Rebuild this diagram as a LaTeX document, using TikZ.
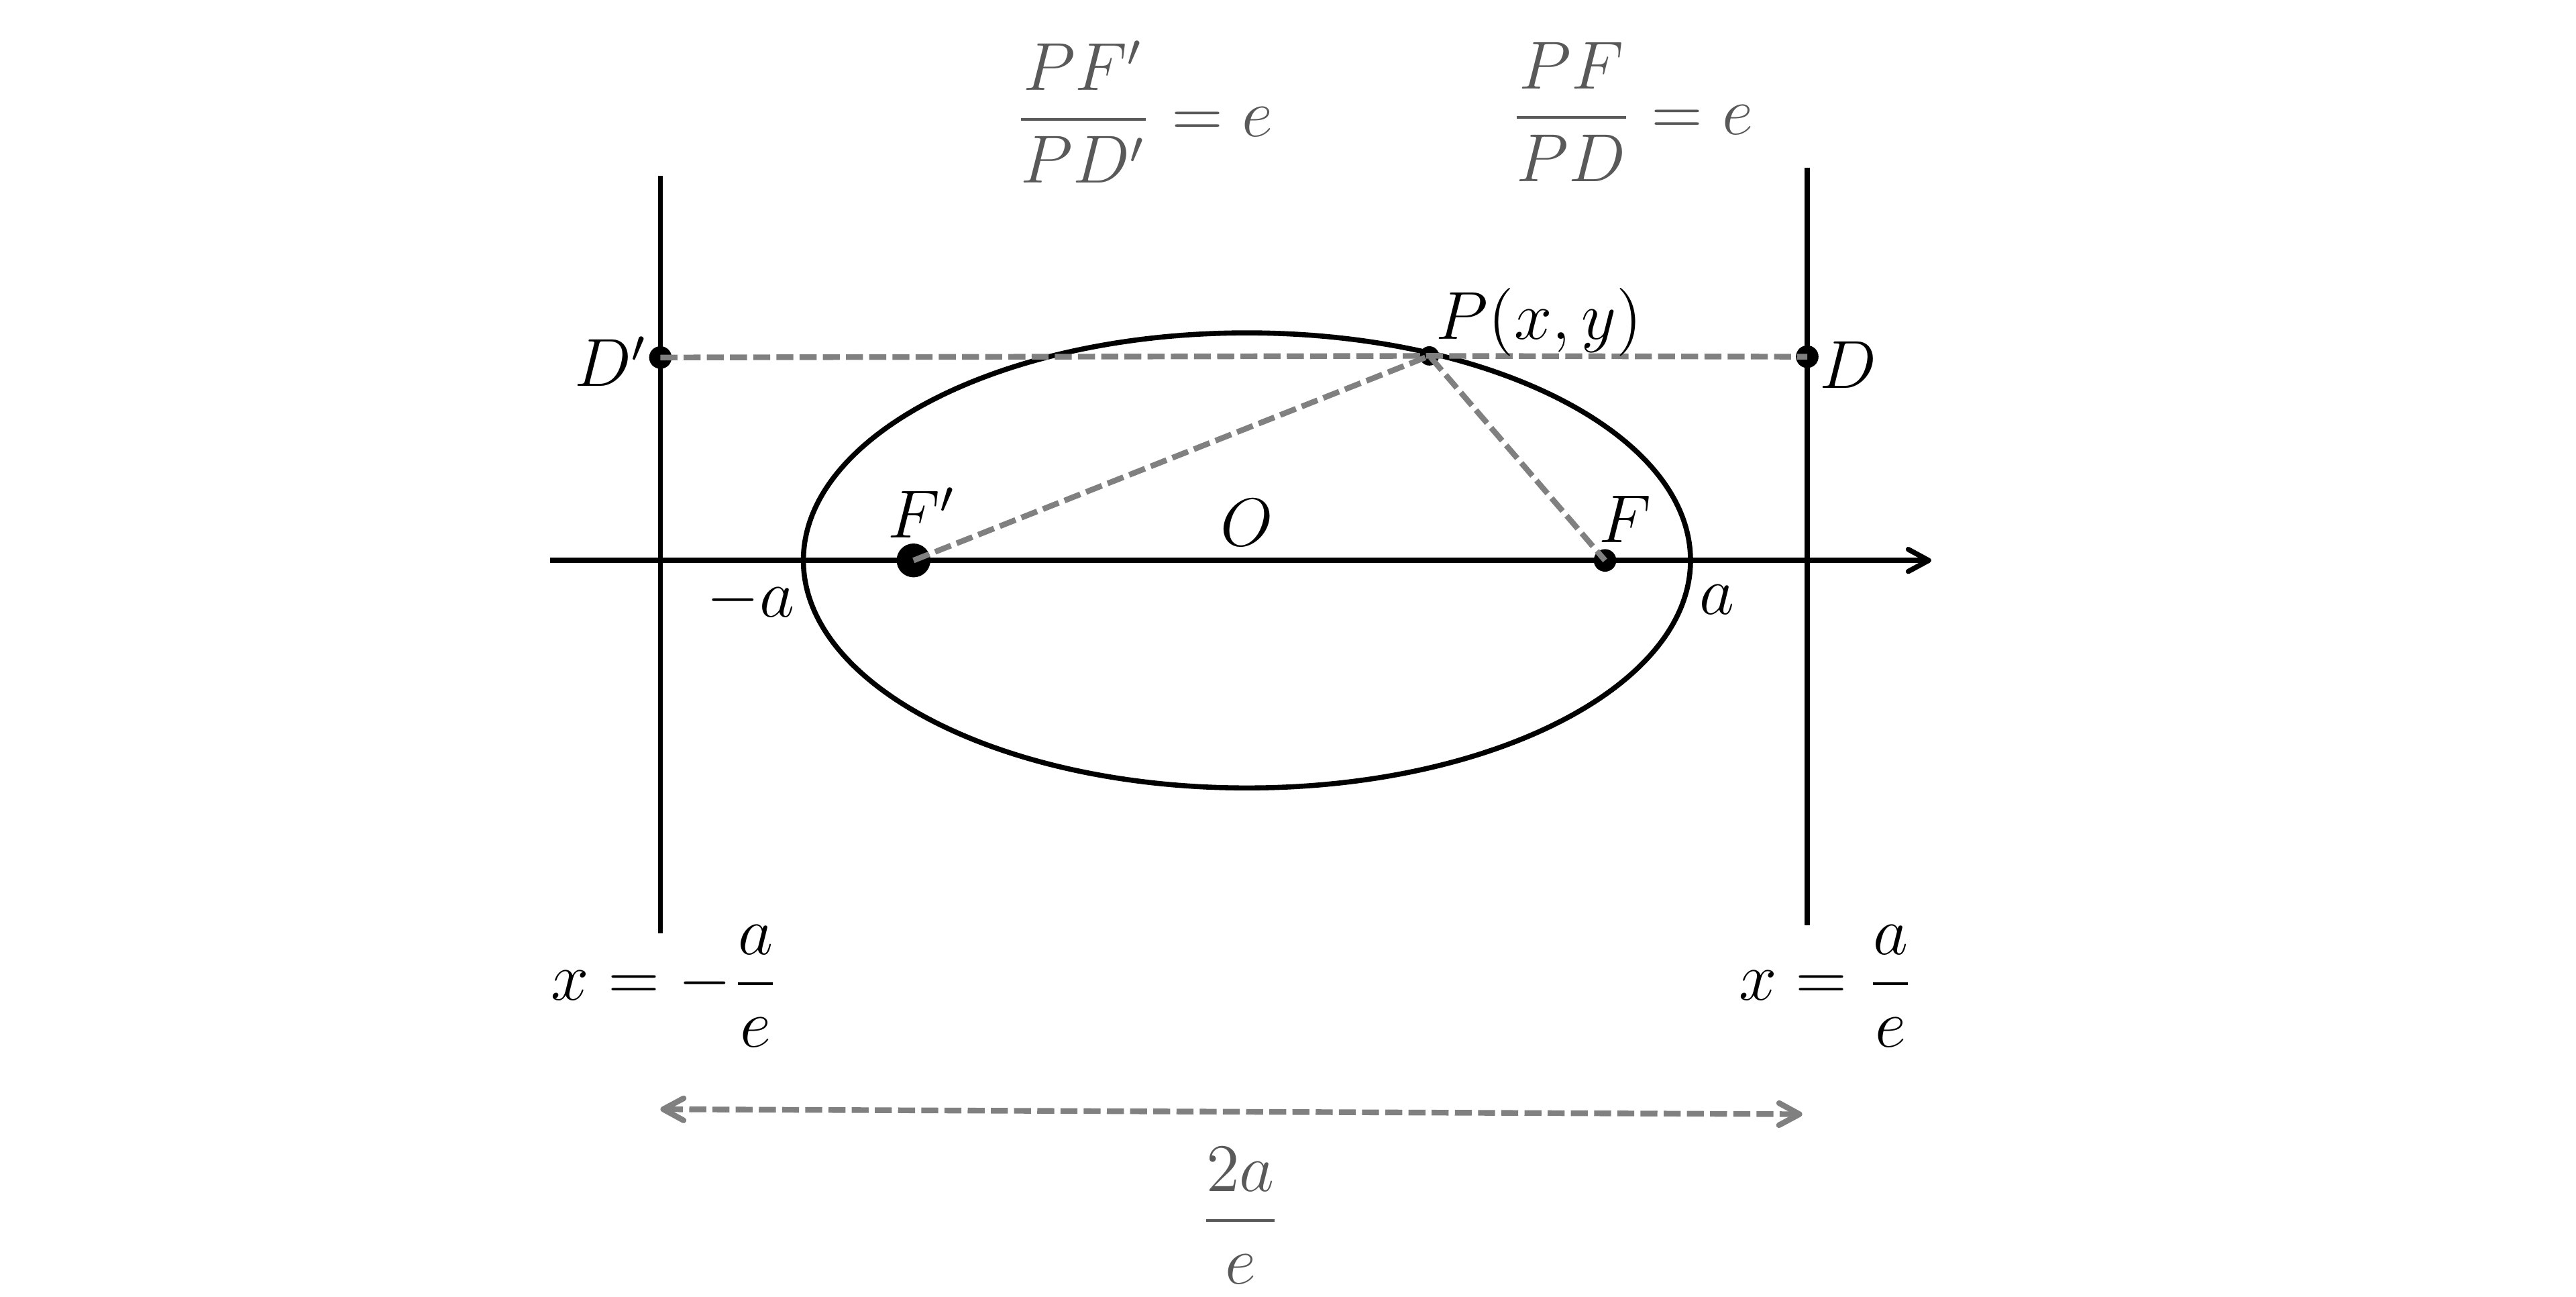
\documentclass[tikz,border=0pt]{standalone}
\usepackage{amsmath}
\usetikzlibrary{arrows.meta}
\definecolor{dashgray}{RGB}{128,128,128}
\definecolor{textgray}{RGB}{89,89,89}
\tikzset{
	ptdot/.style={circle, fill=black, inner sep=0pt, minimum size=#1},
	guide/.style={dashgray, line width=1pt, dash pattern=on 3pt off 1.1pt},
	tip/.style={-{Straight Barb[round,length=3.6pt,width=3.9pt]}},
	tipboth/.style={{Straight Barb[round,length=3.6pt,width=3.9pt]}-{Straight Barb[round,length=3.6pt,width=3.9pt]}},
}
\begin{document}
\begin{tikzpicture}[x=1cm,y=1cm, line width=0.9pt, font=\fontsize{12}{14}\selectfont]
	\useasboundingbox (-7.745,-4.571) rectangle (8.255,3.480);
	
	\coordinate (xl) at (-4.33,0);
	\coordinate (xr) at (4.25,0);
	\draw[tip] (xl) -- (xr);
	\coordinate (dlt) at (-3.643,2.388);
	\coordinate (dlb) at (-3.643,-2.316);
	\coordinate (drt) at (3.480,2.439);
	\coordinate (drb) at (3.480,-2.265);
	\draw (dlt) -- (dlb);
	\draw (drt) -- (drb);
	\draw (0,0) ellipse [x radius=2.755, y radius=1.413];
	
	\node[ptdot=2.1mm] (Fp) at (-2.071,0) {};
	\node[ptdot=1.4mm] (F) at (2.224,0) {};
	\node[ptdot=1.2mm] (P) at (1.133,1.27) {};
	\node[ptdot=1.4mm] (Dp) at (-3.643,1.26) {};
	\node[ptdot=1.4mm] (D) at (3.480,1.265) {};
	
	\draw[guide] (Dp.center) -- (P.center) -- (D.center);
	\draw[guide] (Fp.center) -- (P.center) -- (F.center);
	
	\node (lDp) at (-3.95,1.235) {$D'$};
	\node (lP) at (1.816,1.48) {$P(x,y)$};
	\node (lD) at (3.735,1.214) {$D$};
	\node (lFp) at (-2.02,0.296) {$F'$};
	\node (lO) at (0,0.235) {$O$};
	\node (lF) at (2.347,0.255) {$F$};
	\node (lma) at (-3.082,-0.245) {$-a$};
	\node (la) at (2.918,-0.245) {$a$};
	\node (dirl) at (-3.612,-2.643) {$x=-\dfrac{a}{e}$};
	\node (dirr) at (3.602,-2.643) {$x=\dfrac{a}{e}$};
	
	\coordinate (wl) at (-3.643,-3.408);
	\coordinate (wr) at (3.449,-3.439);
	\draw[guide, tipboth] (wl) -- (wr);
	\node[textgray] (w) at (-0.041,-4.071) {$\dfrac{2a}{e}$};
	
	\node[textgray] (rl) at (-0.643,2.786) {$\dfrac{PF'}{PD'}=e$};
	\node[textgray] (rr) at (2.388,2.786) {$\dfrac{PF}{PD}=e$};
\end{tikzpicture}
\end{document}
